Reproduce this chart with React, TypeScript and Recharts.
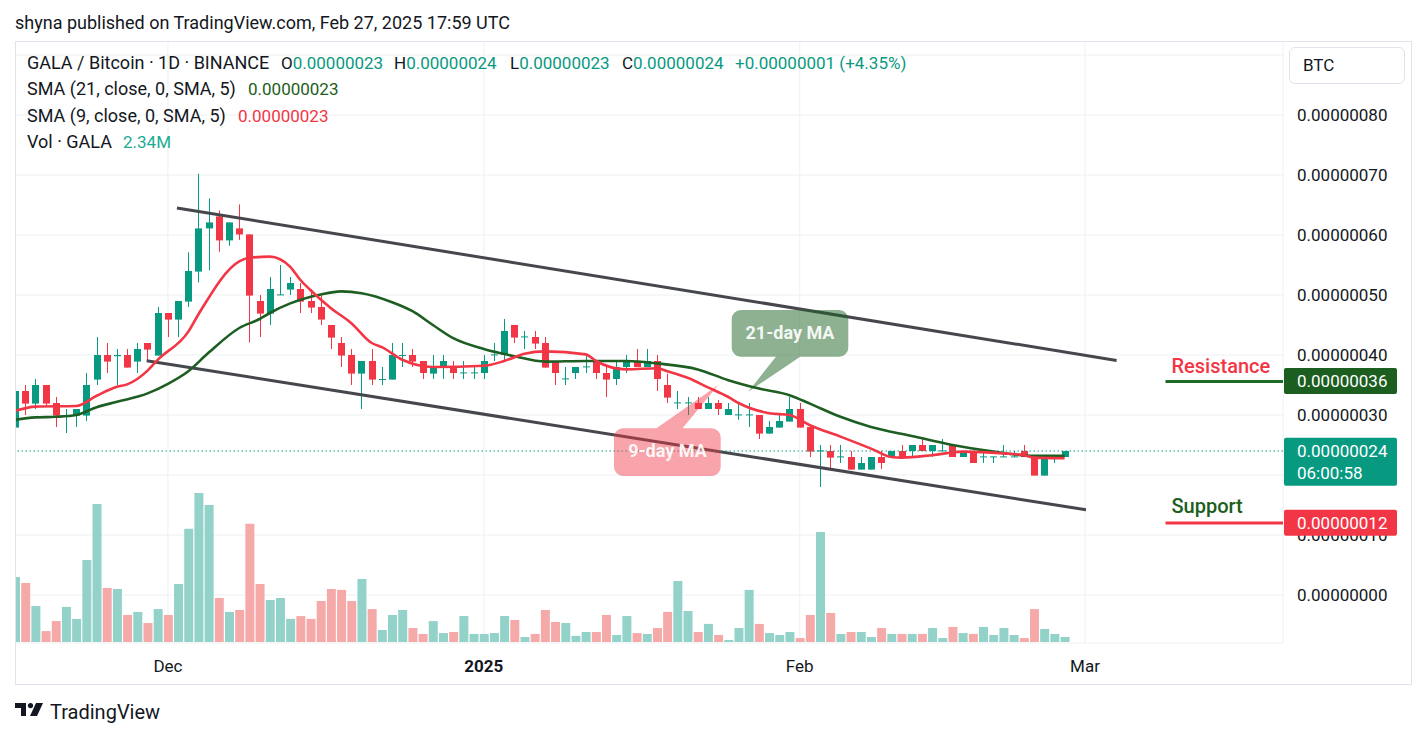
import React from 'react';
import { ComposedChart, XAxis, YAxis, CartesianGrid, Bar, Line, Cell, ReferenceLine } from 'recharts';

const FONT = 'Roboto, "Noto Sans", sans-serif';
const TEXT = '#131722';
const UP = '#089981';
const DOWN = '#f23645';
const DARK_GREEN = '#1b5e20';
const VOL_UP = '#93d2c9';
const VOL_DOWN = '#f6a9a9';

// prices are in 1e-8 BTC, days are counted from Dec 1 (first candle = Nov 16)
const FIRST_DAY = -15;
const opens = [
  27.9, 34, 31.9, 35, 32, 29.9, 29.9, 29.9, 35.9, 40,
  39.8, 40, 38.9, 42, 39.9, 47, 45.9, 48.9, 53.9, 61.1,
  63.1, 59.1, 61.1, 60.1, 49, 46.9, 50, 50.9, 51, 49,
  48, 45, 42, 40, 36.9, 39, 35.9, 35.9, 39.9, 40,
  39, 36.9, 38, 38, 37, 37, 37, 40, 40, 45,
  43, 43, 42, 39, 36, 37, 38, 39, 37, 36,
  38, 39, 38, 39, 35, 32, 32, 32, 31, 32,
  30, 30, 30, 30, 26.9, 27.9, 28.9, 31, 28, 24,
  24, 23, 23, 20.9, 20.9, 23, 23, 24, 24, 25,
  24, 24, 25, 23, 24, 23, 23, 23, 23, 24,
  23, 19.9, 23, 23,
];
const highs = [
  35, 35, 36, 35, 33, 31, 31, 37, 43, 42,
  41, 41, 42, 42, 48, 47, 49, 57.1, 70.2, 66.1,
  64.1, 62.1, 65.1, 60.1, 50, 53, 55, 53, 52, 51,
  50, 45, 43, 41, 39, 41, 38, 42, 42, 41,
  39, 40, 40, 39, 39, 38, 40, 42, 46, 45,
  44, 44, 43, 39, 38, 38, 40, 39, 38, 39,
  40, 41, 41, 40, 36.9, 34, 33, 33, 33, 32.5,
  32, 32, 32, 30, 29, 30, 33, 32, 28, 25,
  25, 25, 24, 23, 23, 24, 24, 25, 25, 26,
  25, 26, 25, 24, 24, 24, 23.1, 25, 24, 25,
  23, 23, 23.1, 24,
];
const lows = [
  27.9, 30, 31, 31.5, 28, 27, 28, 29, 35, 37,
  35, 37.9, 37, 39, 39.9, 43, 43, 48, 52.1, 54.1,
  57.2, 58.2, 59.2, 42.1, 43, 45, 50, 50, 47, 47,
  45, 41, 38, 35, 31, 35, 35, 35.9, 38, 38,
  36, 36, 36, 36, 36, 36, 36, 39, 39, 42,
  41, 41, 37.9, 35, 35, 36, 37, 36, 33, 35,
  37, 38, 38, 34, 32, 31, 30, 31, 31, 30,
  30, 29.2, 28, 26, 26.9, 27.9, 28.9, 27.9, 23, 18,
  21, 22, 20.9, 20.9, 20.9, 21, 23, 23, 23, 24,
  23, 24, 23, 23, 22, 22, 22, 23, 23, 23,
  19.9, 19.9, 22, 23,
];
const closes = [
  34, 31.9, 35, 31.9, 29.9, 30, 31, 35, 40, 38.9,
  40, 37.9, 41, 40.9, 47, 45.9, 49, 54, 61.1, 62.1,
  59.1, 62.1, 60.1, 49.9, 46.9, 51, 50.1, 52, 48.9, 47.9,
  45.9, 42.9, 39.9, 36.9, 39, 35.9, 36, 40, 40, 38.9,
  37, 38, 39, 37, 37.1, 37.1, 39, 40.1, 44, 42.9,
  43.1, 41.9, 37.9, 37, 36.1, 38, 38.1, 37, 35.9, 38,
  39, 38, 39, 36, 32.9, 32.1, 32.1, 31, 32, 31,
  31, 30.1, 30.1, 26.9, 28, 29, 31, 27.9, 23.9, 24.1,
  22.9, 23.1, 20.9, 22, 23, 22, 24, 23, 25, 24,
  25, 24.1, 23, 24, 22, 23.1, 23.1, 23.1, 23.1, 23,
  19.9, 23, 23.1, 24,
];
// volume in millions of GALA
const volumes = [
  29.8, 27.1, 16.5, 5.0, 9.6, 16.1, 10.6, 37.6, 63.3, 24.8,
  24.3, 12.4, 13.8, 8.7, 15.1, 12.4, 26.6, 51.9, 68.4, 62.9,
  20.2, 13.8, 14.7, 54.2, 26.6, 19.3, 20.2, 10.6, 11.9, 10.6,
  18.8, 24.3, 23.9, 18.8, 28.9, 15.1, 5.5, 12.4, 14.7, 6.4,
  3.7, 9.6, 4.1, 4.6, 11.9, 3.7, 3.7, 4.1, 11.9, 10.1,
  2.3, 3.7, 14.7, 9.2, 8.7, 2.8, 4.6, 4.6, 12.4, 3.2,
  11.9, 4.1, 3.7, 6.4, 13.8, 28.0, 14.2, 4.6, 8.3, 3.2,
  0.9, 6.4, 23.9, 8.3, 4.1, 3.2, 4.6, 1.8, 12.4, 50.5,
  13.3, 3.7, 4.6, 4.6, 2.3, 6.4, 3.7, 3.7, 3.7, 3.7,
  6.4, 1.8, 6.9, 4.1, 3.7, 6.9, 3.2, 6.4, 3.2, 1.8,
  15.1, 6.0, 3.7, 2.34,
];

const sma21Days = [-15, -13, -11, -9, -7, -5, -2, 0, 2, 4, 7, 9, 10, 12, 15, 17, 19, 22, 24, 26, 28, 31, 34, 37, 41, 45, 48, 52, 55, 58, 61, 63, 66, 69, 73, 77, 81, 85, 88];
const sma21Vals = [29.2, 29.6, 29.7, 30, 31.3, 32.2, 33.6, 35.2, 37.3, 40.4, 44.5, 46, 47, 48.6, 50.1, 50.6, 50.3, 48.8, 47.3, 45, 42.8, 41, 39.8, 38.9, 39, 39, 38.6, 37.6, 35.8, 34.4, 33.3, 31.9, 29.7, 28, 26.5, 25, 23.9, 23.2, 23.2];
const sma9Days = [-15, -13, -9, -7, -5, -4, -2, -1, 2, 3, 7, 8, 10, 12, 13, 14, 16, 18, 20, 21, 23, 26, 31, 33, 35, 37, 41, 42, 45, 48, 49, 51, 53, 55, 56, 59, 61, 63, 66, 69, 71, 72, 75, 78, 82, 84, 85, 88];
const sma9Vals = [30.7, 31.4, 31.5, 33.2, 34.7, 35.1, 37.4, 39.2, 43.9, 46.8, 55.6, 56.2, 56.4, 54.7, 52.5, 50.8, 47.8, 45.3, 42, 41.3, 39.2, 38, 38.2, 39, 40.2, 40.6, 40.1, 39, 37.6, 37.8, 37.3, 36.2, 34.6, 33, 32, 30.3, 30, 28.3, 26.4, 24.4, 23, 22.9, 23.3, 23.9, 23.6, 23.3, 22.9, 22.8];

// drawn channel (day, price)
const upperChannel = [{ x: 0.88, y: 64.5 }, { x: 93.1, y: 39.1 }];
const lowerChannel = [{ x: -2.09, y: 39.05 }, { x: 90.1, y: 14.2 }];
const resistance = 35.6;
const support = 12;
const lastPrice = 24;
const levelStart = 97.9;

const priceTicks = [0, 10, 20, 30, 40, 50, 60, 70, 80, 90];
const monthTicks = [0, 31, 62, 90];
const monthLabels = ['Dec', '2025', 'Feb', 'Mar'];

const X_DOMAIN: [number, number] = [-15.01, 109.43];
const P_DOMAIN: [number, number] = [-8, 92.333];
const V_DOMAIN: [number, number] = [-0.46, 275.7];

const candles = opens.map((o, i) => ({
  d: FIRST_DAY + i,
  o,
  h: highs[i],
  l: lows[i],
  c: closes[i],
  v: volumes[i],
}));
const sma21 = sma21Days.map((d, i) => ({ d, v: sma21Vals[i] }));
const sma9 = sma9Days.map((d, i) => ({ d, v: sma9Vals[i] }));

const fmtPrice = (v: number) => (v / 1e8).toFixed(8);

const Candle = (props: any) => {
  const { x, y, width, height, payload } = props;
  if (!payload || x == null || y == null) return null;
  const { o, h, l, c } = payload;
  const top = Math.min(y, y + height);
  const bottom = Math.max(y, y + height);
  const ppu = h > l ? (bottom - top) / (h - l) : 0;
  const color = c >= o ? UP : DOWN;
  const bTop = top + (h - Math.max(o, c)) * ppu;
  const bBot = top + (h - Math.min(o, c)) * ppu;
  const cx = Math.round(x + width / 2 - 0.5) + 0.5;
  return (
    <g>
      <line x1={cx} x2={cx} y1={top} y2={bottom} stroke={color} strokeWidth={1} />
      <rect x={cx - 3.5} y={bTop} width={7} height={Math.max(1, bBot - bTop)} fill={color} />
    </g>
  );
};

const MonthTick = (props: any) => {
  const { x, y, payload } = props;
  const label = monthLabels[monthTicks.indexOf(payload.value)];
  return (
    <text x={x} y={y} dy="0.71em" textAnchor="middle" fontSize={17} fill={TEXT} fontWeight={label === '2025' ? 700 : 400}>
      {label}
    </text>
  );
};

const PriceTag = (props: any) => {
  const { viewBox, bg, lines, caption, captionColor, captionOffset } = props;
  if (!viewBox) return null;
  const lineY = viewBox.y;
  const boxX = viewBox.x + viewBox.width + 1;
  const h = lines.length > 1 ? 48 : 26;
  return (
    <g>
      {caption ? (
        <text x={viewBox.x + 6} y={lineY - captionOffset} fill={captionColor} fontSize={20} fontWeight={500}>
          {caption}
        </text>
      ) : null}
      <rect x={boxX} y={lineY - 13.3} width={113} height={h} rx={2} fill={bg} />
      {lines.map((t: string, i: number) => (
        <text key={i} x={boxX + 13} y={lineY + i * 22} dy="0.355em" fill="#fff" fontSize={17}>
          {t}
        </text>
      ))}
    </g>
  );
};

const T = ({ x, y, color, size, children }: any) => (
  <span
    style={{
      position: 'absolute',
      left: x,
      top: y - 10,
      lineHeight: '20px',
      whiteSpace: 'nowrap',
      fontSize: size || 17,
      color: color || TEXT,
    }}
  >
    {children}
  </span>
);

const roundRect = (x: number, y: number, w: number, h: number, r: number) =>
  `M${x + r} ${y} H${x + w - r} A${r} ${r} 0 0 1 ${x + w} ${y + r} V${y + h - r} A${r} ${r} 0 0 1 ${x + w - r} ${y + h} H${x + r} A${r} ${r} 0 0 1 ${x} ${y + h - r} V${y + r} A${r} ${r} 0 0 1 ${x + r} ${y} Z`;

const Callouts = () => (
  <svg width={1427} height={738} style={{ position: 'absolute', left: 0, top: 0, pointerEvents: 'none' }}>
    <path
      d={roundRect(731.7, 310, 116.6, 46.7, 9) + ' M776.7 355.7 L801.7 355.7 L748.3 391.7 Z'}
      fill="rgba(30,100,35,0.5)"
    />
    <text x={790} y={339.3} textAnchor="middle" fill="rgba(255,255,255,0.92)" fontSize={18} fontWeight={700}>
      21-day MA
    </text>
    <path
      d={roundRect(614, 428.3, 106.7, 47.7, 9) + ' M681.7 429.3 L655 429.3 L718.3 385 Z'}
      fill="rgba(242,54,69,0.45)"
    />
    <text x={667.5} y={457} textAnchor="middle" fill="rgba(255,255,255,0.92)" fontSize={18} fontWeight={700}>
      9-day MA
    </text>
  </svg>
);

const CHART_W = 1396;
const CHART_H = 643;
const MARGIN = { top: 0, right: 0, bottom: 0, left: 0 };

export default function App() {
  return (
    <div
      style={{
        position: 'absolute',
        left: 0,
        top: 0,
        width: 1427,
        height: 738,
        background: '#fff',
        fontFamily: FONT,
        fontSize: 17,
        color: TEXT,
        overflow: 'hidden',
      }}
    >
      <T x={15} y={23} size={18}>
        shyna published on TradingView.com, Feb 27, 2025 17:59 UTC
      </T>

      <div style={{ position: 'absolute', left: 15, top: 41 }}>
        <ComposedChart width={CHART_W} height={CHART_H} data={candles} margin={MARGIN}>
          <XAxis
            xAxisId="x"
            dataKey="d"
            type="number"
            domain={X_DOMAIN}
            allowDataOverflow
            ticks={monthTicks}
            interval={0}
            height={41}
            axisLine={false}
            tickLine={false}
            tickSize={0}
            tickMargin={17}
            tick={<MonthTick />}
          />
          <XAxis xAxisId="xv" dataKey="d" type="number" domain={X_DOMAIN} allowDataOverflow hide />
          <YAxis
            yAxisId="p"
            orientation="right"
            type="number"
            domain={P_DOMAIN}
            allowDataOverflow
            ticks={priceTicks}
            interval={0}
            width={128}
            axisLine={false}
            tickLine={false}
            tickSize={0}
            tickMargin={14}
            tickFormatter={fmtPrice}
            tick={{ fill: TEXT, fontSize: 17 }}
          />
          <YAxis yAxisId="v" type="number" domain={V_DOMAIN} allowDataOverflow hide />
          <CartesianGrid xAxisId="x" yAxisId="p" stroke="#eef0f4" />

          <Bar xAxisId="xv" yAxisId="v" dataKey="v" barSize={9} isAnimationActive={false}>
            {candles.map((e) => (
              <Cell key={e.d} fill={e.c >= e.o ? VOL_UP : VOL_DOWN} />
            ))}
          </Bar>

          <ReferenceLine xAxisId="x" yAxisId="p" segment={upperChannel} stroke="#45474d" strokeWidth={3} ifOverflow="visible" />
          <ReferenceLine xAxisId="x" yAxisId="p" segment={lowerChannel} stroke="#45474d" strokeWidth={3} ifOverflow="visible" />
          <ReferenceLine xAxisId="x" yAxisId="p" y={lastPrice} stroke={UP} strokeDasharray="1.5 2.5" />

          <Bar
            xAxisId="x"
            yAxisId="p"
            dataKey={(e: any) => [e.l, e.h]}
            barSize={7}
            shape={<Candle />}
            isAnimationActive={false}
          />

          <Line
            xAxisId="x"
            yAxisId="p"
            data={sma21}
            dataKey="v"
            type="monotone"
            stroke="#1d5e22"
            strokeWidth={2.6}
            dot={false}
            activeDot={false}
            isAnimationActive={false}
          />
          <Line
            xAxisId="x"
            yAxisId="p"
            data={sma9}
            dataKey="v"
            type="monotone"
            stroke="#f23645"
            strokeWidth={2.6}
            dot={false}
            activeDot={false}
            isAnimationActive={false}
          />
        </ComposedChart>
      </div>

      {/* price tags layer: same scales, drawn above the axis labels */}
      <div style={{ position: 'absolute', left: 15, top: 41, pointerEvents: 'none' }}>
        <ComposedChart width={CHART_W} height={CHART_H} data={candles} margin={MARGIN}>
          <XAxis
            xAxisId="x"
            dataKey="d"
            type="number"
            domain={X_DOMAIN}
            allowDataOverflow
            height={41}
            axisLine={false}
            tickLine={false}
            tick={false}
          />
          <YAxis
            yAxisId="p"
            orientation="right"
            type="number"
            domain={P_DOMAIN}
            allowDataOverflow
            width={128}
            axisLine={false}
            tickLine={false}
            tick={false}
          />
          <Line
            xAxisId="x"
            yAxisId="p"
            dataKey="c"
            stroke="none"
            dot={false}
            activeDot={false}
            isAnimationActive={false}
          />
          <ReferenceLine
            xAxisId="x"
            yAxisId="p"
            y={lastPrice}
            stroke="none"
            label={<PriceTag bg={UP} lines={['0.00000024', '06:00:58']} />}
          />
          <ReferenceLine
            xAxisId="x"
            yAxisId="p"
            segment={[{ x: levelStart, y: resistance }, { x: X_DOMAIN[1], y: resistance }]}
            stroke="#1e6b24"
            strokeWidth={3}
            label={<PriceTag bg={DARK_GREEN} lines={['0.00000036']} caption="Resistance" captionColor={DOWN} captionOffset={8} />}
          />
          <ReferenceLine
            xAxisId="x"
            yAxisId="p"
            segment={[{ x: levelStart, y: support }, { x: X_DOMAIN[1], y: support }]}
            stroke={DOWN}
            strokeWidth={3}
            label={<PriceTag bg={DOWN} lines={['0.00000012']} caption="Support" captionColor={DARK_GREEN} captionOffset={10} />}
          />
        </ComposedChart>
      </div>

      {/* chart frame */}
      <div
        style={{
          position: 'absolute',
          left: 15,
          top: 41,
          width: 1397,
          height: 644,
          boxSizing: 'border-box',
          border: '1px solid #e0e3eb',
          pointerEvents: 'none',
        }}
      />

      {/* legend */}
      <T x={27} y={63} size={18}>GALA / Bitcoin · 1D · BINANCE</T>
      <T x={281} y={63}>
        O<span style={{ color: UP }}>0.00000023</span>
      </T>
      <T x={394} y={63}>
        H<span style={{ color: UP }}>0.00000024</span>
      </T>
      <T x={510} y={63}>
        L<span style={{ color: UP }}>0.00000023</span>
      </T>
      <T x={622} y={63}>
        C<span style={{ color: UP }}>0.00000024</span>
      </T>
      <T x={735} y={63} color={UP}>
        +0.00000001 (+4.35%)
      </T>
      <T x={27} y={89} size={18}>SMA (21, close, 0, SMA, 5)</T>
      <T x={248} y={89} color={DARK_GREEN}>
        0.00000023
      </T>
      <T x={27} y={116} size={18}>SMA (9, close, 0, SMA, 5)</T>
      <T x={238} y={116} color={DOWN}>
        0.00000023
      </T>
      <T x={27} y={142} size={18}>Vol · GALA</T>
      <T x={123} y={142} color="#22ab94">
        2.34M
      </T>

      {/* currency button */}
      <div
        style={{
          position: 'absolute',
          left: 1289,
          top: 47,
          width: 116,
          height: 37,
          boxSizing: 'border-box',
          border: '1px solid #e0e3eb',
          borderRadius: 6,
          background: '#fff',
          lineHeight: '35px',
          paddingLeft: 13,
          fontSize: 17,
        }}
      >
        BTC
      </div>

      <Callouts />

      {/* footer logo */}
      <svg width={30} height={14} style={{ position: 'absolute', left: 15, top: 703 }}>
        <path d="M0 0 H11 V13 H6 V5 H0 Z" fill={TEXT} />
        <circle cx={15.5} cy={2.6} r={2.6} fill={TEXT} />
        <path d="M21 0 H28 L22 13 H15 Z" fill={TEXT} />
      </svg>
      <span
        style={{
          position: 'absolute',
          left: 50,
          top: 700,
          fontSize: 20,
          lineHeight: '24px',
          color: TEXT,
        }}
      >
        TradingView
      </span>
    </div>
  );
}
